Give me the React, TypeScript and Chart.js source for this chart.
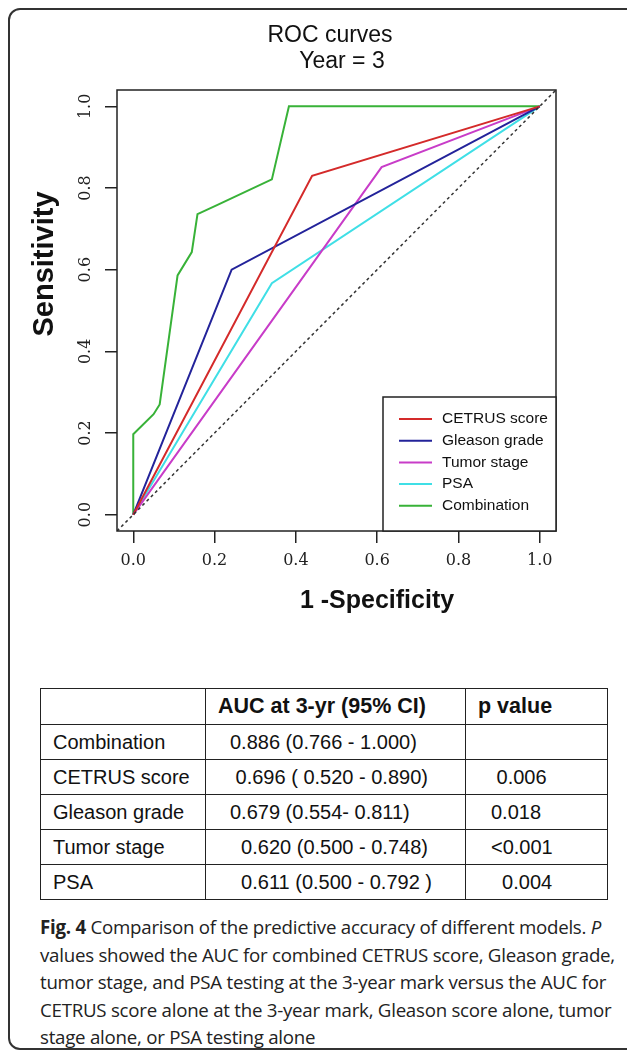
import React, { useEffect, useRef } from 'react';
import { Chart, registerables } from 'chart.js';

Chart.register(...registerables);

// ---- chart data ----
const TITLE_LINES = ['ROC curves', 'Year = 3'];
const X_TITLE = '1 -Specificity';
const Y_TITLE = 'Sensitivity';
const X_TICKS = [0, 0.2, 0.4, 0.6, 0.8, 1.0];
const Y_TICKS = [0, 0.2, 0.4, 0.6, 0.8, 1.0];
const AXIS_MIN = -0.04;
const AXIS_MAX = 1.04;

const SERIES_LABELS = ['CETRUS score', 'Gleason grade', 'Tumor stage', 'PSA', 'Combination'];
const SERIES_COLORS = ['#d42a2a', '#23239a', '#c83cc8', '#3fdfe6', '#38b238'];

const CETRUS_X = [0, 0.44, 1];
const CETRUS_Y = [0, 0.83, 1];
const GLEASON_X = [0, 0.242, 1];
const GLEASON_Y = [0, 0.6, 1];
const TUMOR_X = [0, 0.611, 1];
const TUMOR_Y = [0, 0.851, 1];
const PSA_X = [0, 0.341, 1];
const PSA_Y = [0, 0.567, 1];
const COMBO_X = [0, 0, 0.05, 0.065, 0.109, 0.144, 0.158, 0.206, 0.341, 0.383, 1];
const COMBO_Y = [0, 0.197, 0.246, 0.27, 0.586, 0.643, 0.736, 0.758, 0.821, 1, 1];
const DIAG = [AXIS_MIN, AXIS_MAX];

// ---- table data ----
const TABLE_HEADERS = ['', 'AUC at 3-yr (95% CI)', 'p value'];
const ROW_LABELS = ['Combination', 'CETRUS score', 'Gleason grade', 'Tumor stage', 'PSA'];
const AUC_TEXT = [
  '0.886 (0.766 - 1.000)',
  ' 0.696 ( 0.520 - 0.890)',
  '0.679 (0.554- 0.811)',
  '  0.620 (0.500 - 0.748)',
  '  0.611 (0.500 - 0.792 )',
];
const P_VALUES = ['', ' 0.006', '0.018', '<0.001', '  0.004'];

// ---- caption ----
const CAPTION_LINES = [
  'values showed the AUC for combined CETRUS score, Gleason grade,',
  'tumor stage, and PSA testing at the 3-year mark versus the AUC for',
  'CETRUS score alone at the 3-year mark, Gleason score alone, tumor',
  'stage alone, or PSA testing alone',
];

const zip = (xs: number[], ys: number[]) => xs.map((x, i) => ({ x, y: ys[i] }));

const SANS = '"Liberation Sans", Arial, sans-serif';

const decorPlugin = {
  id: 'rDecor',
  afterDraw(chart: any) {
    const { ctx, chartArea: a, scales } = chart;
    const y = scales.y;
    ctx.save();
    ctx.strokeStyle = '#222';
    ctx.lineWidth = 1.5;
    ctx.strokeRect(a.left, a.top, a.right - a.left, a.bottom - a.top);

    ctx.fillStyle = '#222';
    ctx.font = '16px "DejaVu Serif", serif';
    ctx.textAlign = 'center';
    ctx.textBaseline = 'middle';
    y.ticks.forEach((t: any) => {
      const py = y.getPixelForValue(t.value);
      ctx.save();
      ctx.translate(a.left - 31, py);
      ctx.rotate(-Math.PI / 2);
      ctx.fillText(Number(t.value).toFixed(1), 0, 0);
      ctx.restore();
    });

    ctx.fillStyle = '#111';
    ctx.font = `23px ${SANS}`;
    ctx.textBaseline = 'alphabetic';
    ctx.fillText(TITLE_LINES[0], 322, 34);
    ctx.fillText(TITLE_LINES[1], 334, 60);

    ctx.font = `bold 25px ${SANS}`;
    ctx.fillText(X_TITLE, 369, 600);

    ctx.save();
    ctx.translate(37, 256);
    ctx.rotate(-Math.PI / 2);
    ctx.font = `bold 29px ${SANS}`;
    ctx.textBaseline = 'middle';
    ctx.fillText(Y_TITLE, 0, 0);
    ctx.restore();

    const lx = a.right - 173;
    const ly = a.bottom - 134;
    ctx.fillStyle = '#fff';
    ctx.fillRect(lx, ly, a.right - lx, a.bottom - ly);
    ctx.strokeStyle = '#222';
    ctx.lineWidth = 1.5;
    ctx.strokeRect(lx, ly, a.right - lx, a.bottom - ly);
    ctx.font = `15.5px ${SANS}`;
    ctx.textAlign = 'left';
    ctx.textBaseline = 'middle';
    const items = chart.data.datasets.filter((d: any) => !d.hideInLegend);
    items.forEach((d: any, i: number) => {
      const cy = ly + 22 + i * 21.7;
      ctx.strokeStyle = d.borderColor;
      ctx.lineWidth = 2;
      ctx.beginPath();
      ctx.moveTo(lx + 16, cy);
      ctx.lineTo(lx + 49, cy);
      ctx.stroke();
      ctx.fillStyle = '#111';
      ctx.fillText(d.label, lx + 59, cy);
    });
    ctx.restore();
  },
};

function RocChart() {
  const ref = useRef<HTMLCanvasElement | null>(null);
  useEffect(() => {
    const canvas = ref.current;
    if (!canvas) return;
    const seriesX = [CETRUS_X, GLEASON_X, TUMOR_X, PSA_X, COMBO_X];
    const seriesY = [CETRUS_Y, GLEASON_Y, TUMOR_Y, PSA_Y, COMBO_Y];
    const datasets: any[] = [
      {
        label: 'diagonal',
        hideInLegend: true,
        data: zip(DIAG, DIAG),
        borderColor: '#333',
        borderWidth: 1.5,
        borderDash: [3, 3],
        showLine: true,
        pointRadius: 0,
      },
      ...SERIES_LABELS.map((label, i) => ({
        label,
        data: zip(seriesX[i], seriesY[i]),
        borderColor: SERIES_COLORS[i],
        backgroundColor: SERIES_COLORS[i],
        borderWidth: 2,
        showLine: true,
        pointRadius: 0,
        tension: 0,
      })),
    ];
    const gridOpts = {
      display: true,
      drawOnChartArea: false,
      drawTicks: true,
      tickLength: 12,
      color: '#222',
      lineWidth: 1.5,
    };
    const chart = new Chart(canvas, {
      type: 'scatter',
      data: { datasets },
      options: {
        animation: false,
        responsive: false,
        maintainAspectRatio: false,
        layout: { padding: { left: 69, right: 63, top: 82, bottom: 0 } },
        plugins: { legend: { display: false }, tooltip: { enabled: false }, title: { display: false } },
        scales: {
          x: {
            type: 'linear',
            min: AXIS_MIN,
            max: AXIS_MAX,
            afterBuildTicks: (s: any) => {
              s.ticks = X_TICKS.map((v) => ({ value: v }));
            },
            afterFit: (s: any) => {
              s.height = 117;
            },
            ticks: {
              color: '#222',
              font: { family: '"DejaVu Serif", serif', size: 16 },
              padding: 8,
              maxRotation: 0,
              autoSkip: false,
              callback: (v: any) => Number(v).toFixed(1),
            },
            grid: gridOpts,
            border: { display: false },
          },
          y: {
            type: 'linear',
            min: AXIS_MIN,
            max: AXIS_MAX,
            afterBuildTicks: (s: any) => {
              s.ticks = Y_TICKS.map((v) => ({ value: v }));
            },
            afterFit: (s: any) => {
              s.width = 40;
            },
            ticks: { display: false },
            grid: gridOpts,
            border: { display: false },
          },
        },
      } as any,
      plugins: [decorPlugin],
    });
    return () => chart.destroy();
  }, []);
  return (
    <canvas
      ref={ref}
      width={611}
      height={640}
      style={{ position: 'absolute', left: 0, top: 0, width: 611, height: 640 }}
    />
  );
}

export default function App() {
  useEffect(() => {
    document.documentElement.style.overflow = 'hidden';
    document.body.style.marginBottom = '0';
    document.body.style.marginRight = '0';
  }, []);
  const cellFont = `20px ${SANS}`;
  const border = '1.5px solid #222';
  const colW = [165, 260, 142];
  return (
    <div style={{ position: 'relative', width: 619, height: 1042, overflow: 'hidden' }}>
      <div
        style={{
          position: 'absolute',
          left: 0,
          top: 0,
          width: 640,
          height: 1042,
          border: '2px solid #333',
          borderRadius: 12,
          boxSizing: 'border-box',
        }}
      />
      <RocChart />
      <table
        style={{
          position: 'absolute',
          left: 32,
          top: 680,
          borderCollapse: 'collapse',
          font: cellFont,
          color: '#111',
          tableLayout: 'fixed',
        }}
      >
        <colgroup>
          {colW.map((w, i) => (
            <col key={i} style={{ width: w }} />
          ))}
        </colgroup>
        <tbody>
          <tr style={{ height: 36 }}>
            {TABLE_HEADERS.map((h, i) => (
              <td
                key={i}
                style={{
                  border,
                  fontWeight: 'bold',
                  fontSize: 21.5,
                  padding: '0 0 0 12px',
                  whiteSpace: 'pre',
                }}
              >
                {h}
              </td>
            ))}
          </tr>
          {ROW_LABELS.map((r, i) => (
            <tr key={r} style={{ height: 35 }}>
              <td style={{ border, padding: '0 0 0 12px', whiteSpace: 'pre' }}>{r}</td>
              <td style={{ border, padding: '0 0 0 24px', whiteSpace: 'pre' }}>{AUC_TEXT[i]}</td>
              <td style={{ border, padding: '0 0 0 25px', whiteSpace: 'pre' }}>{P_VALUES[i]}</td>
            </tr>
          ))}
        </tbody>
      </table>
      <div
        style={{
          position: 'absolute',
          left: 32,
          top: 905,
          font: `18.7px "Open Sans", sans-serif`,
          letterSpacing: '-0.25px',
          lineHeight: '27.6px',
          color: '#222',
          whiteSpace: 'nowrap',
        }}
      >
        <div>
          <b>Fig. 4</b> Comparison of the predictive accuracy of different models. <i>P</i>
        </div>
        {CAPTION_LINES.map((l) => (
          <div key={l}>{l}</div>
        ))}
      </div>
    </div>
  );
}
